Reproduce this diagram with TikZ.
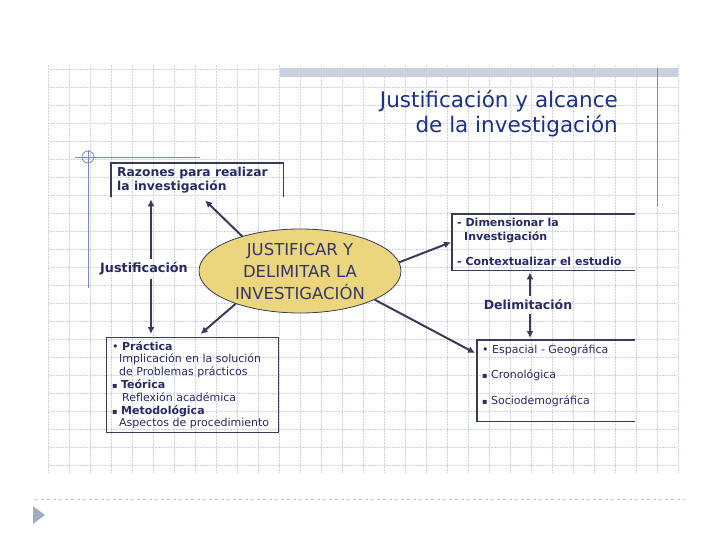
\documentclass[tikz,border=0pt]{standalone}
\usepackage{fontspec}
\setmainfont{DejaVu Sans}
\usetikzlibrary{shapes.geometric,arrows.meta}
\newdimen\unitsize
\setlength{\unitsize}{1pt}
\definecolor{tinta}{RGB}{40,42,104}
\definecolor{titulo}{RGB}{28,48,140}
\definecolor{trazo}{RGB}{58,58,92}
\definecolor{cuadro}{RGB}{206,210,222}
\definecolor{marco}{RGB}{122,138,184}
\definecolor{crema}{RGB}{235,213,125}
\definecolor{banda}{RGB}{202,208,224}
\definecolor{punta}{RGB}{160,174,196}
\newcommand{\cuadrito}{{\fontsize{8}{8}\selectfont ▪}}

\begin{document}
\begin{tikzpicture}[x=\unitsize,y=\unitsize,
  flecha/.style={trazo,line width=2pt,-{Latex[length=7pt,width=7pt]}},
  lado/.style={trazo,line width=1.2pt},
  cajon/.style={inner sep=0pt,anchor=north west},
  texto/.style={tinta,align=left,inner sep=0pt,anchor=north west,
    font=\fontsize{11}{13.5}\selectfont},
  rotulo/.style={tinta,font=\fontsize{12.8}{14}\selectfont\bfseries}]
\useasboundingbox (0,0) rectangle (720,-540);
\fill[white] (0,0) rectangle (720,-540);
% cuadricula de fondo
\foreach \gx in {0,...,30}{
  \draw[cuadro,densely dotted,line width=0.5pt]
    ({48+21*\gx},-65) -- ({48+21*\gx},-472);
}
\foreach \gy in {0,...,22}{
  \draw[cuadro,densely dotted,line width=0.5pt]
    (48,{-69-18*\gy}) -- (678,{-69-18*\gy});
}
\fill[banda] (280,-68) rectangle (678,-77);
\draw[marco,line width=1pt] (657,-68) -- (657,-207);
\draw[marco,line width=0.8pt] (75,-157) -- (200,-157);
\draw[marco,line width=0.8pt] (88,-150) -- (88,-288);
\draw[marco,line width=0.8pt] (88,-157) circle[radius=6pt];
% titulo
\node[titulo,font=\fontsize{21.5}{25}\selectfont,align=right,
  inner sep=0pt,anchor=north east] (tit) at (618,-90)
  {Justificación y alcance\\de la investigación};
% elipse central
\node[ellipse,draw=trazo,fill=crema,line width=0.8pt,
  minimum width=202pt,minimum height=84pt] (centro) at (300,-271) {};
\node[tinta!85!gray,font=\fontsize{16.5}{22}\selectfont,align=center,
  inner sep=0pt] (centrotxt) at (centro) {JUSTIFICAR Y\\DELIMITAR LA\\INVESTIGACIÓN};
% cajas
\node[cajon,minimum width=172pt,minimum height=34pt] (razones) at (111,-163) {};
\node[texto,font=\fontsize{12.3}{14}\selectfont\bfseries] (razonestxt)
  at ([xshift=6pt,yshift=-4pt]razones.north west)
  {Razones para realizar\\la investigación};
\draw[lado] (razones.south west) |- (razones.north east) -- (razones.south east);

\node[cajon,minimum width=183pt,minimum height=56pt] (dimension) at (452,-214) {};
\node[texto,font=\fontsize{11}{14}\selectfont\bfseries] (dimensiontxt)
  at ([xshift=5pt,yshift=-4pt]dimension.north west)
  {- Dimensionar la\\\hspace*{7pt}Investigación\\[11pt]- Contextualizar el estudio};
\draw[lado] (dimension.north east) -| (dimension.south west) -- (dimension.south east);

\node[cajon,draw=trazo,line width=1.2pt,minimum width=172pt,minimum height=95pt]
  (practica) at (106,-337) {};
\node[texto,font=\fontsize{11}{12.8}\selectfont] (practicatxt)
  at ([xshift=6pt,yshift=-4pt]practica.north west)
  {• \textbf{Práctica}\\
   \hspace*{7pt}Implicación en la solución\\
   \hspace*{7pt}de Problemas prácticos\\
   \cuadrito\ \textbf{Teórica}\\
   \hspace*{10pt}Reflexión académica\\
   \cuadrito\ \textbf{Metodológica}\\
   \hspace*{7pt}Aspectos de procedimiento};

\node[cajon,minimum width=158pt,minimum height=81pt] (espacial) at (477,-340) {};
\node[texto,font=\fontsize{11}{25.5}\selectfont] (espacialtxt)
  at ([xshift=5pt,yshift=-4pt]espacial.north west)
  {• Espacial - Geográfica\\\cuadrito\ Cronológica\\\cuadrito\ Sociodemográfica};
\draw[lado] (espacial.north east) -| (espacial.south west) -- (espacial.south east);
% rotulos
\node[rotulo] (justif) at (144,-269) {Justificación};
\node[rotulo,font=\fontsize{12.5}{14}\selectfont\bfseries] (delim) at (528,-305) {Delimitación};
% flechas
\draw[flecha,shorten >=2pt] ([xshift=7pt]justif.north)
  -- ([xshift=7pt]justif.north |- razones.south);
\draw[flecha,shorten >=3pt] ([xshift=7pt]justif.south)
  -- ([xshift=7pt]justif.south |- practica.north);
\draw[flecha,shorten >=2pt] ([xshift=2pt]delim.north)
  -- ([xshift=2pt]delim.north |- dimension.south);
\draw[flecha,shorten >=2pt] ([xshift=2pt]delim.south)
  -- ([xshift=2pt]delim.south |- espacial.north);
\draw[flecha] (centro.149) -- ([xshift=8pt,yshift=-3pt]razones.south);
\draw[flecha] (centro.207) -- ([xshift=8pt,yshift=3pt]practica.north);
\draw[flecha] (centro.5) -- ([xshift=-1pt]dimension.west);
\draw[flecha] (centro.-21) -- ([xshift=-2pt,yshift=-13pt]espacial.north west);
% pie
\draw[gray!45,dashed,line width=0.8pt] (35,-499) -- (685,-499);
\fill[punta] (33,-506) -- (45,-515) -- (33,-524) -- cycle;
\end{tikzpicture}
\end{document}
